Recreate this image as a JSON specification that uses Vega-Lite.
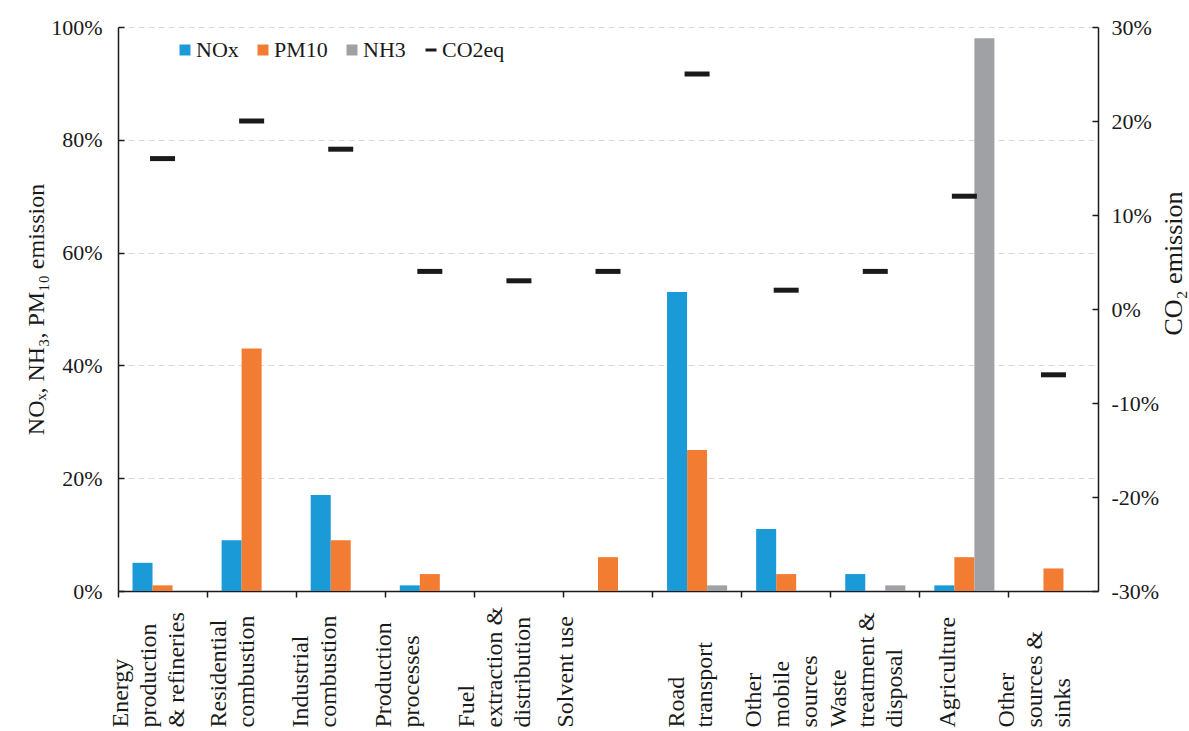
{
  "$schema": "https://vega.github.io/schema/vega-lite/v6.json",
  "width": 980,
  "height": 564,
  "autosize": {"type": "none"},
  "padding": {"left": 118, "top": 27, "right": 91, "bottom": 140},
  "background": "white",
  "config": {
    "font": "Liberation Serif",
    "view": {"stroke": null},
    "axis": {
      "domainColor": "#1a1a1a",
      "domainWidth": 1.5,
      "tickColor": "#1a1a1a",
      "tickWidth": 1.5,
      "labelColor": "#1a1a1a",
      "labelFont": "Liberation Serif",
      "labelFontSize": 22,
      "titleFont": "Liberation Serif",
      "titleFontSize": 24,
      "titleFontWeight": "normal",
      "titleColor": "#1a1a1a"
    }
  },
  "datasets": {
    "bars": [
      {"cat": "Energy|production|& refineries", "pollutant": "NOx", "value": 5},
      {"cat": "Energy|production|& refineries", "pollutant": "PM10", "value": 1},
      {"cat": "Energy|production|& refineries", "pollutant": "NH3", "value": 0},
      {"cat": "Residential|combustion", "pollutant": "NOx", "value": 9},
      {"cat": "Residential|combustion", "pollutant": "PM10", "value": 43},
      {"cat": "Residential|combustion", "pollutant": "NH3", "value": 0},
      {"cat": "Industrial|combustion", "pollutant": "NOx", "value": 17},
      {"cat": "Industrial|combustion", "pollutant": "PM10", "value": 9},
      {"cat": "Industrial|combustion", "pollutant": "NH3", "value": 0},
      {"cat": "Production|processes", "pollutant": "NOx", "value": 1},
      {"cat": "Production|processes", "pollutant": "PM10", "value": 3},
      {"cat": "Production|processes", "pollutant": "NH3", "value": 0},
      {"cat": "Fuel|extraction &|distribution", "pollutant": "NOx", "value": 0},
      {"cat": "Fuel|extraction &|distribution", "pollutant": "PM10", "value": 0},
      {"cat": "Fuel|extraction &|distribution", "pollutant": "NH3", "value": 0},
      {"cat": "Solvent use", "pollutant": "NOx", "value": 0},
      {"cat": "Solvent use", "pollutant": "PM10", "value": 6},
      {"cat": "Solvent use", "pollutant": "NH3", "value": 0},
      {"cat": "Road|transport", "pollutant": "NOx", "value": 53},
      {"cat": "Road|transport", "pollutant": "PM10", "value": 25},
      {"cat": "Road|transport", "pollutant": "NH3", "value": 1},
      {"cat": "Other|mobile|sources", "pollutant": "NOx", "value": 11},
      {"cat": "Other|mobile|sources", "pollutant": "PM10", "value": 3},
      {"cat": "Other|mobile|sources", "pollutant": "NH3", "value": 0},
      {"cat": "Waste|treatment &|disposal", "pollutant": "NOx", "value": 3},
      {"cat": "Waste|treatment &|disposal", "pollutant": "PM10", "value": 0},
      {"cat": "Waste|treatment &|disposal", "pollutant": "NH3", "value": 1},
      {"cat": "Agriculture", "pollutant": "NOx", "value": 1},
      {"cat": "Agriculture", "pollutant": "PM10", "value": 6},
      {"cat": "Agriculture", "pollutant": "NH3", "value": 98},
      {"cat": "Other|sources &|sinks", "pollutant": "NOx", "value": 0},
      {"cat": "Other|sources &|sinks", "pollutant": "PM10", "value": 4},
      {"cat": "Other|sources &|sinks", "pollutant": "NH3", "value": 0}
    ],
    "co2": [
      {"cat": "Energy|production|& refineries", "co2": 16},
      {"cat": "Residential|combustion", "co2": 20},
      {"cat": "Industrial|combustion", "co2": 17},
      {"cat": "Production|processes", "co2": 4},
      {"cat": "Fuel|extraction &|distribution", "co2": 3},
      {"cat": "Solvent use", "co2": 4},
      {"cat": "Road|transport", "co2": 25},
      {"cat": "Other|mobile|sources", "co2": 2},
      {"cat": "Waste|treatment &|disposal", "co2": 4},
      {"cat": "Agriculture", "co2": 12},
      {"cat": "Other|sources &|sinks", "co2": -7}
    ]
  },
  "layer": [
    {
      "data": {"name": "bars"},
      "mark": {"type": "bar"},
      "encoding": {
        "x": {
          "field": "cat",
          "type": "nominal",
          "scale": {
            "domain": ["Energy|production|& refineries", "Residential|combustion", "Industrial|combustion", "Production|processes", "Fuel|extraction &|distribution", "Solvent use", "Road|transport", "Other|mobile|sources", "Waste|treatment &|disposal", "Agriculture", "Other|sources &|sinks"],
            "paddingInner": 0,
            "paddingOuter": 0
          },
          "axis": {
            "title": null,
            "bandPosition": 0,
            "tickSize": 6,
            "labelAngle": -90,
            "labelAlign": "left",
            "labelBaseline": "middle",
            "labelPadding": 130,
            "labelLineHeight": 28,
            "labelFontSize": 24,
            "labelLimit": 400,
            "labelExpr": "split(datum.label, '|')",
            "labelOffset": {
              "condition": [
                {"test": "datum.value === 'Energy|production|& refineries'", "value": -42},
                {"test": "datum.value === 'Residential|combustion'", "value": -33},
                {"test": "datum.value === 'Industrial|combustion'", "value": -40},
                {"test": "datum.value === 'Production|processes'", "value": -46},
                {"test": "datum.value === 'Fuel|extraction &|distribution'", "value": -52},
                {"test": "datum.value === 'Solvent use'", "value": -42},
                {"test": "datum.value === 'Road|transport'", "value": -20},
                {"test": "datum.value === 'Other|mobile|sources'", "value": -32},
                {"test": "datum.value === 'Waste|treatment &|disposal'", "value": -36},
                {"test": "datum.value === 'Agriculture'", "value": -16},
                {"test": "datum.value === 'Other|sources &|sinks'", "value": -46}
              ],
              "value": 0
            }
          }
        },
        "xOffset": {
          "field": "pollutant",
          "type": "nominal",
          "sort": ["NOx", "PM10", "NH3"],
          "scale": {"paddingInner": 0, "paddingOuter": 0.725}
        },
        "y": {
          "field": "value",
          "type": "quantitative",
          "scale": {"domain": [0, 100], "nice": false},
          "axis": {
            "orient": "left",
            "values": [0, 20, 40, 60, 80, 100],
            "labelExpr": "datum.value + '%'",
            "tickSize": -6,
            "labelPadding": 22,
            "grid": true,
            "gridColor": "#d9d9d9",
            "gridDash": [6, 4],
            "gridWidth": 1.2,
            "title": "NOₓ, NH₃, PM₁₀ emission",
            "titlePadding": 2
          }
        },
        "color": {
          "field": "pollutant",
          "type": "nominal",
          "scale": {
            "domain": ["NOx", "PM10", "NH3", "CO2eq"],
            "range": ["#1A9AD6", "#F37C33", "#A0A1A5", "#1a1a1a"]
          },
          "legend": {
            "orient": "none",
            "legendX": 56,
            "legendY": 12,
            "direction": "horizontal",
            "title": null,
            "padding": 0,
            "labelFont": "Liberation Serif",
            "labelFontSize": 22,
            "labelColor": "#1a1a1a",
            "symbolSize": 121,
            "symbolType": "square",
            "columnPadding": 13,
            "labelOffset": 0,
            "encode": {
              "symbols": {
                "update": {
                  "shape": {"signal": "datum.value === 'CO2eq' ? 'stroke' : 'square'"},
                  "stroke": {"signal": "datum.value === 'CO2eq' ? '#1a1a1a' : 'transparent'"},
                  "strokeWidth": {"signal": "datum.value === 'CO2eq' ? 3 : 0"}
                }
              }
            }
          }
        }
      }
    },
    {
      "data": {"name": "co2"},
      "mark": {"type": "tick", "size": 25, "thickness": 5, "opacity": 1},
      "encoding": {
        "x": {"field": "cat", "type": "nominal"},
        "y": {
          "field": "co2",
          "type": "quantitative",
          "scale": {"domain": [-30, 30], "nice": false},
          "axis": {
            "orient": "right",
            "values": [-30, -20, -10, 0, 10, 20, 30],
            "labelExpr": "datum.value + '%'",
            "tickSize": -6,
            "labelPadding": 19,
            "grid": false,
            "title": "CO₂ emission",
            "titleFontSize": 26,
            "titleAngle": 270,
            "titleBaseline": "top",
            "titleY": 236,
            "titlePadding": 2
          }
        },
        "color": {"datum": "CO2eq"}
      }
    }
  ],
  "resolve": {"scale": {"y": "independent"}}
}
